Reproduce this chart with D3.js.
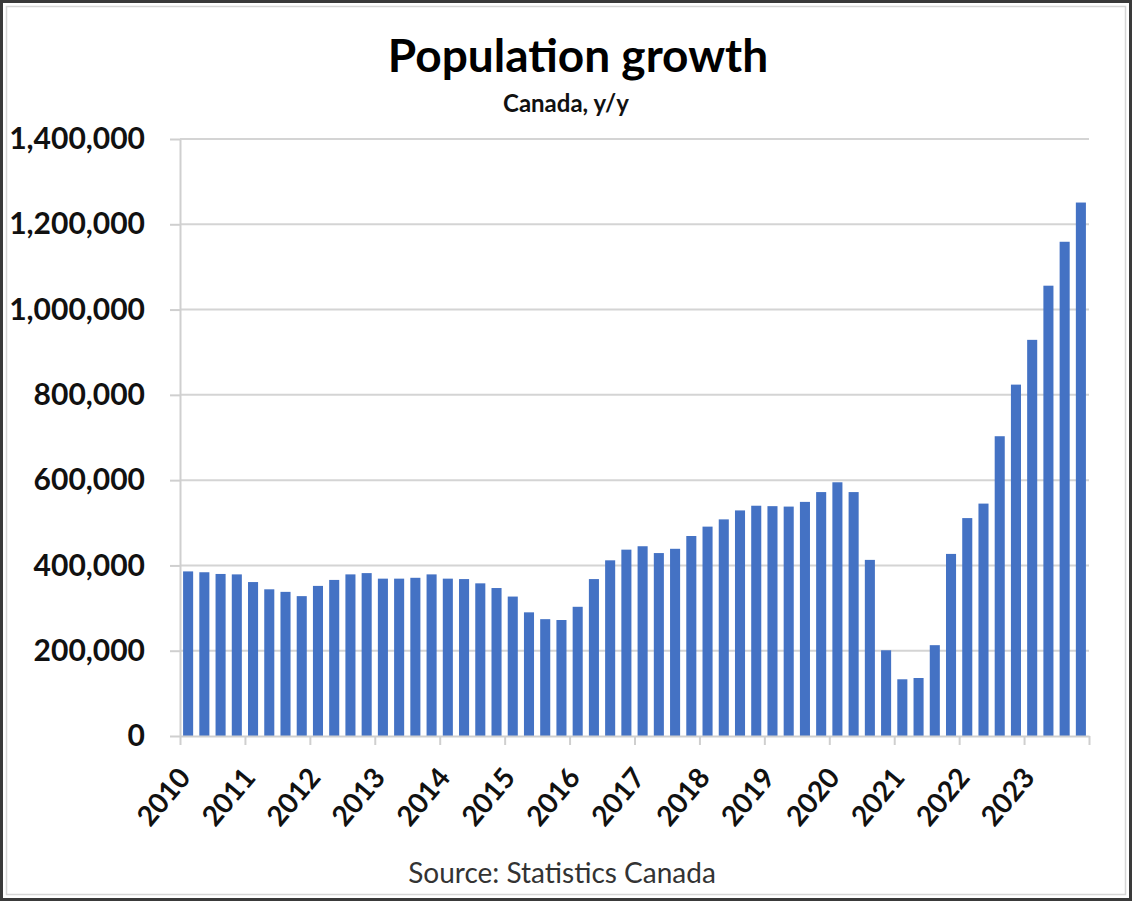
<!DOCTYPE html>
<html>
<head>
<meta charset="utf-8">
<script src="https://cdn.jsdelivr.net/npm/d3@7"></script>
<style>
  html, body { margin: 0; padding: 0; background: #fff; }
  svg { display: block; }
</style>
</head>
<body>
<svg id="chart" width="1132" height="901"></svg>
<script>
// Quarterly year-over-year population growth, Canada, 2010 Q1 – 2023 Q4
const years = ["2010","2011","2012","2013","2014","2015","2016","2017","2018","2019","2020","2021","2022","2023"];
const quarters = ["Q1","Q2","Q3","Q4"];
const growth = [
  386000, 384000, 380000, 379000,   // 2010
  361000, 344000, 338000, 328000,   // 2011
  352000, 366000, 379000, 382000,   // 2012
  369000, 369000, 371000, 379000,   // 2013
  369000, 368000, 358000, 347000,   // 2014
  327000, 290000, 274000, 272000,   // 2015
  303000, 368000, 412000, 437000,   // 2016
  445000, 429000, 439000, 469000,   // 2017
  491000, 508000, 529000, 540000,   // 2018
  539000, 538000, 549000, 572000,   // 2019
  595000, 572000, 413000, 201000,   // 2020
  133000, 136000, 213000, 427000,   // 2021
  511000, 545000, 703000, 824000,   // 2022
  929000, 1056000, 1159000, 1251000 // 2023
];
const yTicks = [0, 200000, 400000, 600000, 800000, 1000000, 1200000, 1400000];
const titleText = "Population growth";
const subtitleText = "Canada, y/y";
const sourceText = "Source: Statistics Canada";

const periods = years.flatMap(y => quarters.map(q => y + " " + q));

const svg = d3.select("#chart");
const W = 1132, H = 901;
const plot = { left: 180, right: 1089, top: 139, bottom: 736 };
const font = "Lato, 'Open Sans', sans-serif";
const axisGrey = "#cfcfcf";

// frame
svg.append("rect").attr("x", 1.5).attr("y", 1.5).attr("width", W - 3).attr("height", H - 3)
  .attr("fill", "#fff").attr("stroke", "#3a3a3a").attr("stroke-width", 3);
svg.append("rect").attr("x", 6.5).attr("y", 6.5).attr("width", W - 13).attr("height", H - 13)
  .attr("fill", "none").attr("stroke", "#d6d6d6").attr("stroke-width", 1.5);

const x = d3.scaleBand().domain(periods).range([plot.left, plot.right])
  .paddingInner(0.38).paddingOuter(0.19);
const y = d3.scaleLinear().domain([0, 1400000]).range([plot.bottom, plot.top]);

// horizontal gridlines
svg.append("g").selectAll("line").data(yTicks.filter(d => d > 0)).join("line")
  .attr("x1", plot.left).attr("x2", plot.right)
  .attr("y1", d => y(d)).attr("y2", d => y(d))
  .attr("stroke", "#d4d4d4").attr("stroke-width", 2);

// bars
svg.append("g").selectAll("rect").data(growth).join("rect")
  .attr("x", (d, i) => x(periods[i]))
  .attr("width", x.bandwidth())
  .attr("y", d => y(d))
  .attr("height", d => y(0) - y(d))
  .attr("fill", "#4472c4");

// y axis
const fmt = d3.format(",");
const yAxis = svg.append("g").attr("transform", `translate(${plot.left},0)`)
  .call(d3.axisLeft(y).tickValues(yTicks).tickFormat(fmt).tickSize(10).tickSizeOuter(0).tickPadding(25));
yAxis.select(".domain").attr("stroke", axisGrey).attr("stroke-width", 2);
yAxis.selectAll(".tick line").attr("stroke", axisGrey).attr("stroke-width", 2);
yAxis.selectAll("text")
  .attr("font-family", font)
  .attr("font-weight", "bold").attr("font-size", 30).attr("fill", "#111");

// x axis: tick at the start of each year
const step = x.step();
const yearPos = d3.scaleLinear().domain([0, years.length]).range([plot.left, plot.left + step * periods.length]);
const tickVals = d3.range(years.length + 1);
const xAxis = svg.append("g").attr("transform", `translate(0,${plot.bottom})`)
  .call(d3.axisBottom(yearPos).tickValues(tickVals).tickSize(9).tickSizeOuter(0).tickFormat(""));
xAxis.select(".domain").attr("stroke", axisGrey).attr("stroke-width", 2);
xAxis.selectAll(".tick line").attr("stroke", axisGrey).attr("stroke-width", 2);

svg.append("g").selectAll("text").data(years).join("text")
  .attr("transform", (d, i) => `translate(${yearPos(i) + 4.5},${plot.bottom + 36}) rotate(-50)`)
  .attr("text-anchor", "end")
  .attr("dy", "0.35em")
  .attr("font-family", font)
  .attr("font-weight", "bold").attr("font-size", 28).attr("fill", "#111")
  .text(d => d);

// titles
svg.append("text").attr("x", 578).attr("y", 72).attr("text-anchor", "middle")
  .attr("font-family", font).attr("font-weight", "bold")
  .attr("font-size", 46).attr("fill", "#000").text(titleText);
svg.append("text").attr("x", 566).attr("y", 112).attr("text-anchor", "middle")
  .attr("font-family", font).attr("font-weight", "bold")
  .attr("font-size", 24).attr("fill", "#111").text(subtitleText);
svg.append("text").attr("x", 562).attr("y", 883).attr("text-anchor", "middle")
  .attr("font-family", font)
  .attr("font-size", 28).attr("fill", "#333").text(sourceText);
</script>
</body>
</html>
